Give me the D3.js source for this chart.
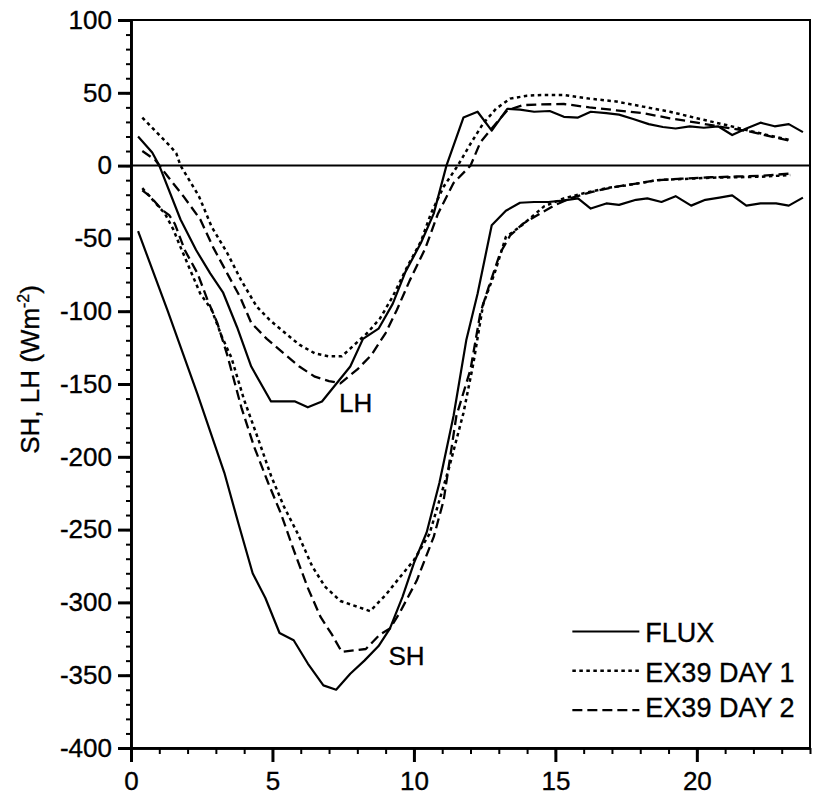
<!DOCTYPE html>
<html>
<head>
<meta charset="utf-8">
<script src="https://cdn.jsdelivr.net/npm/d3@7"></script>
<style>
  body { margin: 0; background: #fff; }
  text { font-family: "Liberation Sans", Arial, sans-serif; fill: #000; stroke: #000; stroke-width: 0.35px; }
</style>
</head>
<body>
<div id="chart"></div>
<script>
// hour of day vs flux (W m-2)
const fluxLH = [[0.25,20],[0.75,9],[1.0,0],[1.75,-37],[2.3,-58],[2.8,-74],[3.25,-87],[3.75,-111],[4.25,-138],[4.95,-162],[5.8,-162],[6.25,-166],[6.75,-162],[7.25,-150],[7.75,-138],[8.2,-119],[8.75,-112],[9.25,-95],[9.7,-73],[10.25,-53],[10.7,-33],[11.15,0],[11.75,33],[12.25,37],[12.75,24],[13.3,39],[13.75,38.5],[14.25,37],[14.8,37.5],[15.3,33.5],[15.8,33],[16.25,37],[16.8,36],[17.25,35],[17.75,32],[18.3,28.5],[18.8,26.5],[19.25,25.5],[19.75,27],[20.25,26],[20.75,27],[21.25,21],[21.75,25.5],[22.25,29.5],[22.75,27],[23.25,28.5],[23.75,23]];
const fluxSH = [[0.25,-45],[1.3,-100],[2.35,-157],[3.3,-211],[3.8,-246],[4.3,-280],[4.75,-297],[5.25,-321],[5.75,-326],[6.25,-342],[6.8,-357],[7.25,-360],[7.75,-349],[8.25,-340],[8.75,-330],[9.15,-318],[9.6,-296],[10.0,-273],[10.45,-252],[10.9,-218],[11.4,-172],[11.85,-120],[12.25,-88],[12.75,-41],[13.25,-31],[13.75,-25.5],[14.25,-25],[14.75,-25],[15.25,-24],[15.8,-22.5],[16.25,-29.5],[16.8,-26],[17.25,-27],[17.85,-23.5],[18.25,-22.5],[18.75,-25],[19.25,-21],[19.8,-27.5],[20.3,-23.5],[20.8,-22],[21.25,-20.5],[21.75,-27.5],[22.25,-26],[22.8,-26],[23.25,-27.5],[23.75,-22]];
const day1LH = [[0.4,33],[1.4,13],[1.6,8.5],[1.75,0],[2.4,-21],[2.85,-42],[3.4,-60],[3.9,-79],[4.45,-97],[4.9,-106],[5.45,-115],[5.95,-123],[6.5,-129],[7.0,-131],[7.45,-131],[7.9,-123],[8.35,-115],[8.8,-105],[9.25,-90],[9.75,-70],[10.25,-52],[10.6,-33],[11.05,-14.5],[11.55,0],[12.0,15],[12.45,29],[12.9,39],[13.4,46],[14.0,48],[14.5,48.5],[15.3,48.5],[16.2,46],[17.15,44],[18.1,40.5],[19.05,37],[20.0,32.5],[20.9,28.5],[21.85,24],[22.6,20.5],[23.3,17.5]];
const day2LH = [[0.4,10],[0.85,4],[1.3,-7.5],[1.85,-21],[2.45,-37],[2.9,-56],[3.4,-74],[3.85,-90],[4.25,-108],[4.8,-119],[5.4,-129],[5.95,-138],[6.5,-145],[7.0,-148],[7.4,-149.5],[8.0,-140],[8.5,-130],[9.0,-115],[9.4,-99],[9.85,-79],[10.4,-57],[10.85,-33],[11.4,-12],[12.0,0],[12.35,16],[12.75,25.5],[13.3,38],[13.85,41.5],[14.4,42],[15.3,42.3],[16.2,40],[17.15,38],[18.1,36],[19.05,32.5],[20.0,29.5],[20.9,26.5],[21.85,23.5],[22.6,20],[23.3,17]];
const day1SH = [[0.4,-15.5],[1.2,-33],[1.5,-44],[1.75,-56],[2.1,-72],[2.45,-88],[2.85,-99],[3.2,-117],[3.55,-132],[4.0,-161],[4.5,-188],[4.95,-213],[5.4,-234],[5.9,-253],[6.4,-275],[6.85,-289],[7.4,-299],[8.45,-306],[9.0,-295],[9.45,-284],[10.0,-271],[10.55,-253],[10.9,-230],[11.25,-207],[11.75,-170],[12.1,-136],[12.45,-95],[12.85,-74],[13.25,-49],[13.75,-42],[14.3,-33],[14.6,-28],[15.3,-22.5],[16.0,-19],[16.8,-15.5],[17.6,-13.3],[18.6,-10],[19.5,-9.2],[20.5,-8.3],[21.4,-8],[22.3,-7.6],[23.3,-6.5]];
const day2SH = [[0.4,-17],[0.7,-21.5],[1.1,-30.5],[1.35,-34],[1.55,-40],[1.9,-58],[2.35,-74],[2.7,-92],[3.05,-108],[3.4,-130],[3.9,-166],[4.35,-193],[4.85,-218],[5.3,-239],[5.75,-264],[6.25,-290],[6.7,-310],[7.1,-322],[7.45,-334],[8.3,-332],[8.8,-322],[9.15,-318],[9.5,-307],[10.1,-285],[10.7,-255],[11.05,-230],[11.5,-172],[12.0,-140],[12.35,-101],[12.65,-83],[13.05,-60],[13.4,-48],[13.85,-40],[14.45,-33],[15.0,-27],[15.6,-22],[16.3,-18],[17.0,-15],[17.8,-12.5],[18.6,-10],[19.5,-9],[20.5,-8],[21.4,-7.5],[22.3,-7],[23.3,-5.5]];

const xMajor = [0, 5, 10, 15, 20];
const yMajor = [-400, -350, -300, -250, -200, -150, -100, -50, 0, 50, 100];
const legendNames = ["FLUX", "EX39 DAY 1", "EX39 DAY 2"];

var margin = {top: 20, right: 5, bottom: 56, left: 131},
    width = 815 - margin.left - margin.right,
    height = 804 - margin.top - margin.bottom;

const svg = d3.select("#chart")
  .append("svg")
  .attr("width", 815)
  .attr("height", 804)
  .append("g")
  .attr("transform", "translate(" + margin.left + "," + margin.top + ")");

var x = d3.scaleLinear().domain([0, 24]).range([0, width]);
var y = d3.scaleLinear().domain([-400, 100]).range([height, 0]);

// line styles: solid = flux, short dash = day 1, long dash = day 2
const styles = {
  flux: {dash: null, w: 2.2},
  day1: {dash: "3.5,3.5", w: 2.5},
  day2: {dash: "10,5", w: 2.3}
};

// frame
svg.append("rect")
  .attr("width", width).attr("height", height)
  .attr("fill", "none").attr("stroke", "#000").attr("stroke-width", 2);

// zero line
svg.append("line")
  .attr("x1", 0).attr("x2", width)
  .attr("y1", y(0)).attr("y2", y(0))
  .attr("stroke", "#000").attr("stroke-width", 2);

// minor ticks
const yAxisMinor = d3.axisLeft(y).tickValues(d3.range(-400, 101, 10)).tickSize(5).tickSizeOuter(0).tickFormat("");
const xAxisMinor = d3.axisBottom(x).tickValues(d3.range(0, 25, 1)).tickSize(6).tickSizeOuter(0).tickFormat("");
svg.append("g").attr("class", "minor").call(yAxisMinor);
svg.append("g").attr("class", "minor").attr("transform", "translate(0," + height + ")").call(xAxisMinor);

// major ticks + labels
const yAxis = svg.append("g")
  .call(d3.axisLeft(y).tickValues(yMajor).tickSize(13).tickSizeOuter(0).tickPadding(6).tickFormat(d3.format("d")));
const xAxis = svg.append("g")
  .attr("transform", "translate(0," + height + ")")
  .call(d3.axisBottom(x).tickValues(xMajor).tickSize(14).tickSizeOuter(0).tickPadding(10).tickFormat(d3.format("d")));

svg.selectAll(".domain").attr("stroke", "#000").attr("stroke-width", 2.6);
svg.selectAll(".tick line").attr("stroke", "#000").attr("stroke-width", 3);
svg.selectAll(".minor .tick line").attr("stroke-width", 2);
[yAxis, xAxis].forEach(function(a) {
  a.selectAll("text").style("font-size", "26px").attr("fill", "#000");
});
yAxis.selectAll(".tick text").text(function(d) { return d < 0 ? "-" + Math.abs(d) : d; });

// curves
var line = d3.line()
  .x(function(d) { return x(d[0]); })
  .y(function(d) { return y(d[1]); });

const series = [
  {data: fluxLH, s: styles.flux}, {data: fluxSH, s: styles.flux},
  {data: day1LH, s: styles.day1}, {data: day1SH, s: styles.day1},
  {data: day2LH, s: styles.day2}, {data: day2SH, s: styles.day2}
];

svg.selectAll(".curve")
  .data(series)
  .enter()
  .append("path")
  .attr("class", "curve")
  .attr("d", function(d) { return line(d.data); })
  .attr("fill", "none")
  .attr("stroke", "#000")
  .attr("stroke-width", function(d) { return d.s.w; })
  .attr("stroke-dasharray", function(d) { return d.s.dash; })
  .attr("stroke-linejoin", "round");

// curve labels
svg.append("text").attr("x", x(7.35)).attr("y", y(-169)).style("font-size", "26px").text("LH");
svg.append("text").attr("x", x(9.1)).attr("y", y(-343)).style("font-size", "26px").text("SH");

// legend
const legendStyles = [styles.flux, styles.day1, styles.day2];
const legendY = [-320, -347, -374];
const legendTextDy = [10, 11, 7];
const legend = svg.selectAll(".legend")
  .data(legendNames)
  .enter()
  .append("g")
  .attr("class", "legend")
  .attr("transform", function(d, i) { return "translate(" + x(15.6) + "," + y(legendY[i]) + ")"; });

legend.append("line")
  .attr("x1", 0).attr("x2", 67)
  .attr("stroke", "#000")
  .attr("stroke-width", function(d, i) { return legendStyles[i].w; })
  .attr("stroke-dasharray", function(d, i) { return legendStyles[i].dash; });

legend.append("text")
  .attr("x", 73).attr("y", function(d, i) { return legendTextDy[i]; })
  .style("font-size", "27px")
  .text(function(d) { return d; });

// y axis title
const title = svg.append("text")
  .attr("transform", "translate(-92," + y(-140) + ") rotate(-90)")
  .attr("text-anchor", "middle")
  .style("font-size", "26px");
title.append("tspan").text("SH, LH (Wm");
title.append("tspan").attr("dy", -10).style("font-size", "16px").text("-2");
title.append("tspan").attr("dy", 10).text(")");
</script>
</body>
</html>
